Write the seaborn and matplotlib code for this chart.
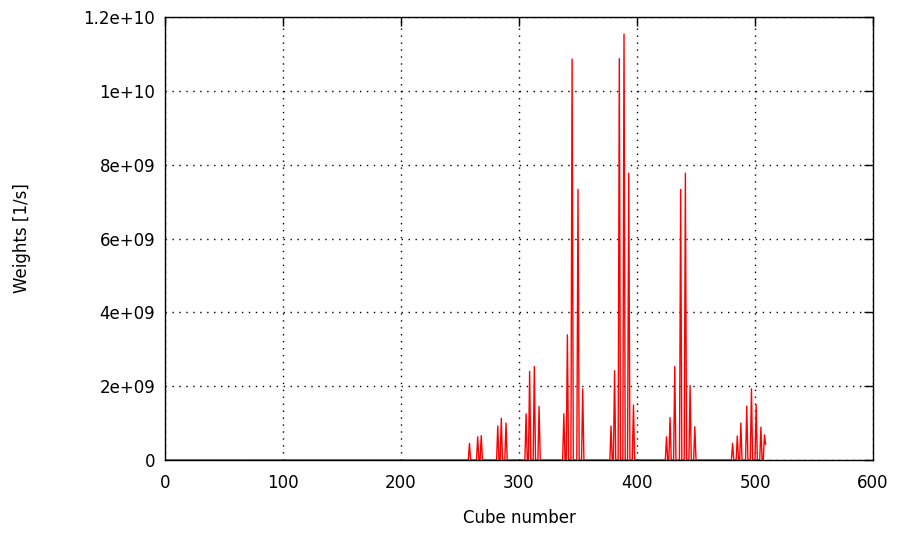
import numpy as np
import pandas as pd
import matplotlib
matplotlib.use("Agg")
import matplotlib.pyplot as plt
import seaborn as sns
from matplotlib.ticker import FuncFormatter

sns.set_style("white")
plt.rcParams['font.family'] = ['DejaVu Sans']
plt.rcParams['text.color'] = "black"
plt.rcParams['axes.labelcolor'] = "black"

# spikes (cube index, weight in 1/s)
spike_cubes = [258, 265, 268, 282, 285, 289,
               306, 309, 313, 317,
               338, 341, 345, 350, 354,
               378, 381, 385, 389, 393, 397,
               425, 428, 432, 437, 441, 445, 449,
               481, 485, 488, 493, 497, 501, 505, 508, 509]
spike_weights = [0.45e9, 0.63e9, 0.66e9, 0.92e9, 1.13e9, 1.0e9,
                 1.25e9, 2.40e9, 2.53e9, 1.45e9,
                 1.25e9, 3.39e9, 10.86e9, 7.33e9, 1.93e9,
                 0.92e9, 2.42e9, 10.87e9, 11.54e9, 7.77e9, 1.49e9,
                 0.63e9, 1.15e9, 2.53e9, 7.33e9, 7.77e9, 2.02e9, 0.90e9,
                 0.45e9, 0.65e9, 1.0e9, 1.46e9, 1.93e9, 1.49e9, 0.89e9, 0.68e9, 0.42e9]
n_cubes = 510

weights = np.zeros(n_cubes)
weights[spike_cubes] = spike_weights
data = pd.DataFrame({"cube": np.arange(n_cubes), "weight": weights})

fig = plt.figure(figsize=(9, 5.35), dpi=100)
ax = fig.add_axes([165/900, 1 - 460/535, 708/900, 443/535])

sns.lineplot(x="cube", y="weight", data=data, ax=ax, color="red", linewidth=1.0, estimator=None)

ax.set_xlim(0, 600)
ax.set_ylim(0, 1.2e10)
ax.set_xticks(np.arange(0, 601, 100))
ax.set_yticks(np.arange(0, 1.21e10, 2e9))
ax.yaxis.set_major_formatter(FuncFormatter(lambda v, p: "%g" % v))
ax.yaxis.get_offset_text().set_visible(False)

ax.grid(True, color="black", linestyle=(0, (1, 4)), linewidth=1)
ax.tick_params(direction="in", length=6.5, width=1, top=True, right=True,
               labelsize=12, colors="black")
ax.tick_params(axis="x", pad=10)
ax.tick_params(axis="y", pad=7)
for s in ax.spines.values():
    s.set_color("black")
    s.set_linewidth(1)

ax.set_xlabel("Cube number", fontsize=12, labelpad=12, color="black")
ax.set_ylabel("Weights [1/s]", fontsize=12, labelpad=38, color="black")

fig.savefig("out.png", dpi=100)
